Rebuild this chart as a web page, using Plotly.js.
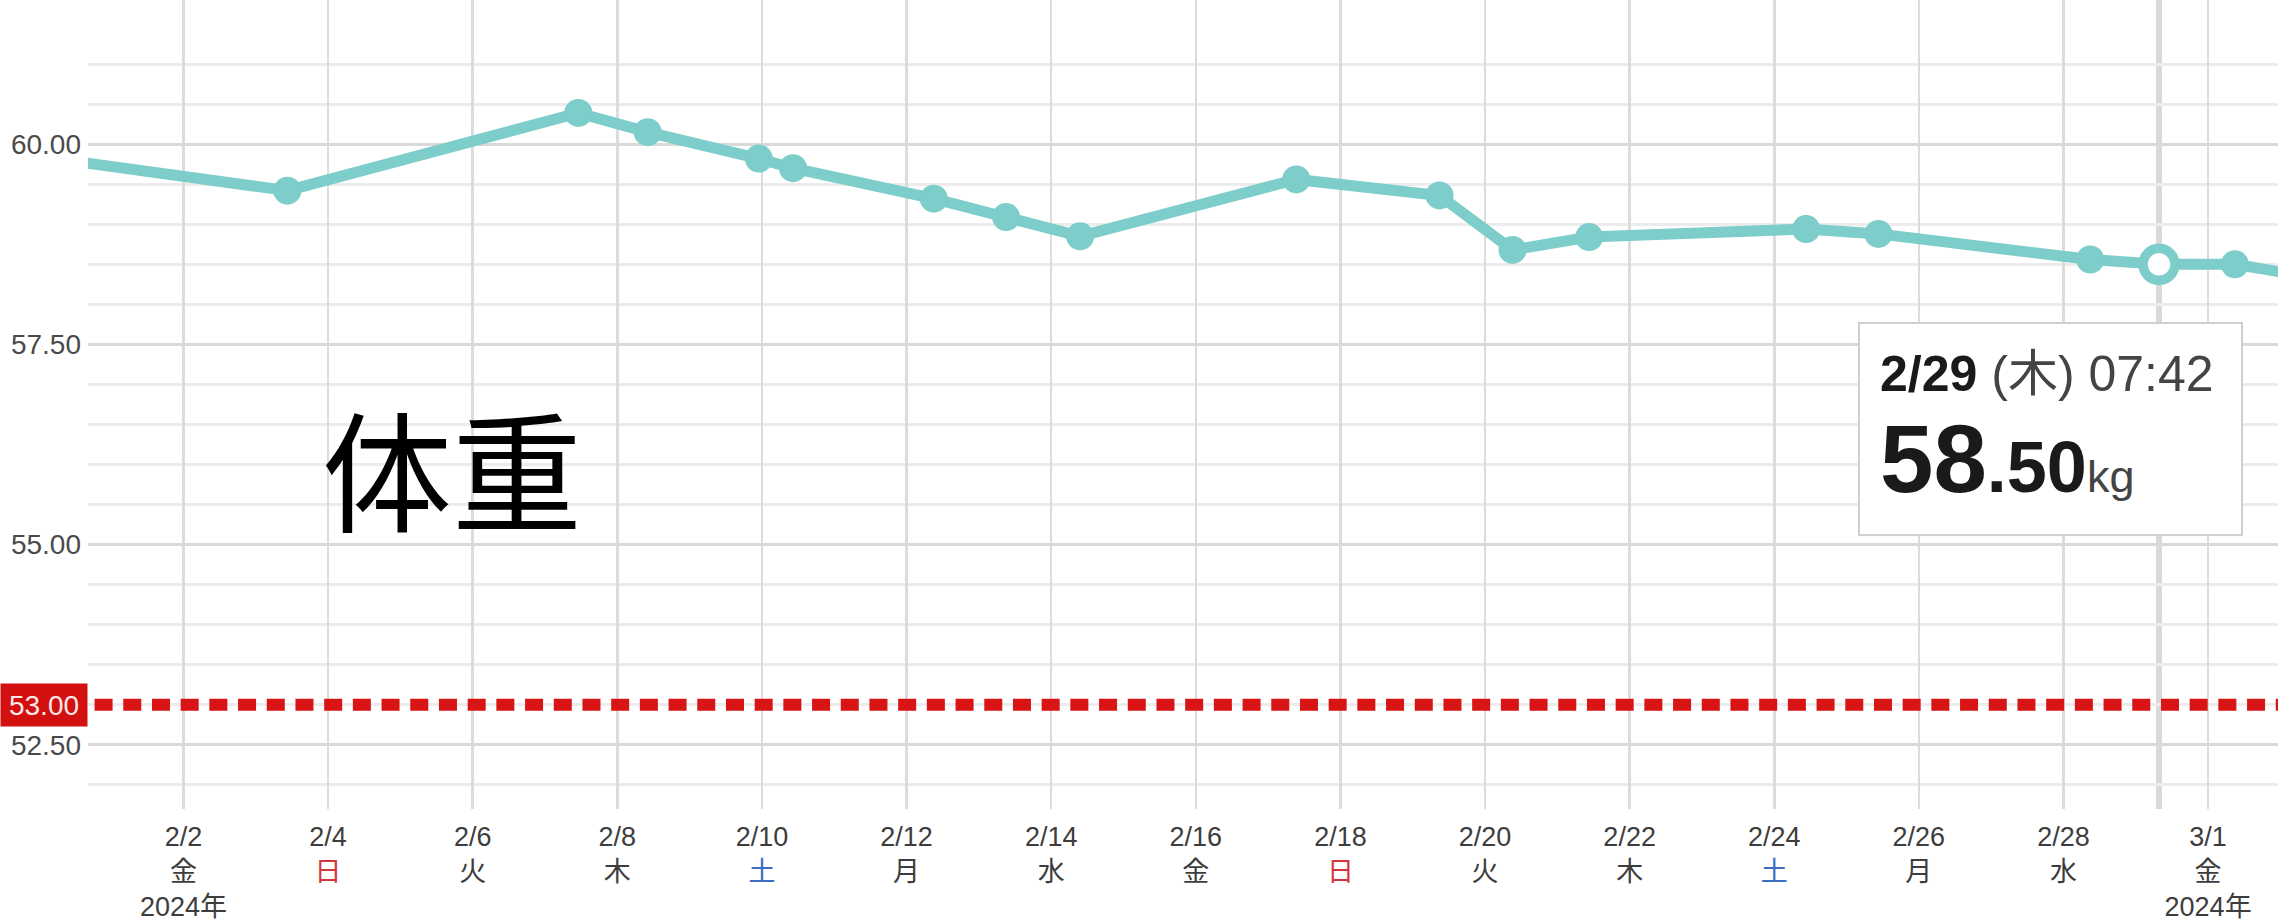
<!DOCTYPE html>
<html>
<head>
<meta charset="utf-8">
<script src="https://cdn.plot.ly/plotly-3.0.1.min.js"></script>
<style>
html,body{margin:0;padding:0;background:#fff;}
#chart{width:2278px;height:922px;}
</style>
</head>
<body>
<div id="chart"></div>
<script>
// ---- data ----
const dates = ['2024-01-31 09:00','2024-02-03 10:28','2024-02-07 11:03','2024-02-08 10:05','2024-02-09 22:57',
  '2024-02-10 10:19','2024-02-12 09:02','2024-02-13 09:02','2024-02-14 09:36','2024-02-17 09:21',
  '2024-02-19 08:53','2024-02-20 09:07','2024-02-21 10:34','2024-02-24 10:34','2024-02-25 10:34',
  '2024-02-28 08:53','2024-02-29 07:42','2024-03-01 08:53','2024-03-02 09:00'];
const weights = [59.80,59.42,60.39,60.15,59.82,59.70,59.32,59.09,58.85,59.56,59.36,58.68,58.84,58.94,58.88,58.56,58.50,58.50,58.35];

const highlightDate = '2024-02-29 07:42';
const highlightLabelDate = '2/29';
const highlightLabelWeekday = '木';
const highlightLabelTime = '07:42';

const goalWeight = 53.00;
const goalLabel = '53.00';

const tickDates = ['2024-02-02','2024-02-04','2024-02-06','2024-02-08','2024-02-10','2024-02-12','2024-02-14',
  '2024-02-16','2024-02-18','2024-02-20','2024-02-22','2024-02-24','2024-02-26','2024-02-28','2024-03-01'];
const tickDayLabels = ['2/2','2/4','2/6','2/8','2/10','2/12','2/14','2/16','2/18','2/20','2/22','2/24','2/26','2/28','3/1'];
const tickWeekdays = ['金','日','火','木','土','月','水','金','日','火','木','土','月','水','金'];
const tickYearLabels = ['2024年','','','','','','','','','','','','','','2024年'];

const yTickVals = [52.5, 55, 57.5, 60];
const yTickText = ['52.50','55.00','57.50','60.00'];
const yMinorVals = [52, 53, 53.5, 54, 54.5, 55.5, 56, 56.5, 57, 58, 58.5, 59, 59.5, 60.5, 61];

const chartTitle = '体重';

// ---- build ----
const weekdayColors = {'日':'#d4363f','土':'#3b6cc2'};
const xTickText = tickDayLabels.map((d,i)=>{
  const w = tickWeekdays[i];
  const c = weekdayColors[w];
  let s = d + '<br>' + (c ? '<span style="color:'+c+'">'+w+'</span>' : w);
  if (tickYearLabels[i]) s += '<br>' + tickYearLabels[i];
  return s;
});

const hi = dates.indexOf(highlightDate);
const teal = '#7dcdca';

const traces = [
  {
    x: dates, y: weights, type: 'scatter', mode: 'lines+markers',
    line: {color: teal, width: 11},
    marker: {color: teal, size: 28},
    cliponaxis: true, hoverinfo: 'skip'
  },
  {
    x: [dates[hi]], y: [weights[hi]], type: 'scatter', mode: 'markers',
    marker: {color: '#ffffff', size: 32, line: {color: teal, width: 9.5}},
    hoverinfo: 'skip'
  }
];

const valStr = weights[hi].toFixed(2).split('.');

const layout = {
  width: 2278, height: 922, autosize: false,
  margin: {l: 88, r: 0, t: 0, b: 113, pad: 0},
  paper_bgcolor: '#ffffff', plot_bgcolor: '#ffffff',
  showlegend: false, hovermode: false,
  font: {family: 'Liberation Sans, Arial, "Noto Sans CJK JP", sans-serif', color: '#3d3d3d'},
  xaxis: {
    type: 'date',
    range: ['2024-01-31 16:18', '2024-03-01 23:12'],
    tickmode: 'array', tickvals: tickDates, ticktext: xTickText,
    ticks: '', showline: false, zeroline: false,
    showgrid: true, gridcolor: '#dcdcdc', gridwidth: 2.5,
    tickfont: {size: 27, color: '#3d3d3d', family: 'Liberation Sans, Arial, "Noto Sans CJK JP", sans-serif'},
    ticklabelstandoff: 9,
    fixedrange: true
  },
  yaxis: {
    range: [51.70, 61.80],
    tickmode: 'array', tickvals: yTickVals, ticktext: yTickText,
    ticks: '', showline: false, zeroline: false,
    showgrid: true, gridcolor: '#d9d9d9', gridwidth: 3,
    minor: {tickmode: 'array', tickvals: yMinorVals, showgrid: true, gridcolor: '#ececec', gridwidth: 3, ticks: ''},
    tickfont: {size: 28, color: '#4a4a4a'},
    ticklabelstandoff: 6,
    fixedrange: true
  },
  shapes: [
    {
      type: 'line', layer: 'below', xref: 'x', yref: 'paper',
      x0: dates[hi], x1: dates[hi], y0: 0, y1: 1,
      line: {color: '#dadada', width: 6}
    },
    {
      type: 'line', layer: 'above', xref: 'paper', yref: 'y',
      x0: 0.003, x1: 1, y0: goalWeight, y1: goalWeight,
      line: {color: '#d81414', width: 12, dash: '18px,10.7px'}
    }
  ],
  annotations: [
    {
      xref: 'paper', yref: 'y', x: 0, y: goalWeight, xanchor: 'right', yanchor: 'middle',
      text: goalLabel, showarrow: false,
      font: {size: 28, color: '#ffe9e9'},
      bgcolor: '#d21010', borderpad: 7, width: 72, height: 28, align: 'center'
    },
    {
      xref: 'x', yref: 'y', x: '2024-02-05 17:08', y: 56.0, xanchor: 'center', yanchor: 'middle',
      text: chartTitle, showarrow: false,
      font: {size: 130, color: '#000000', family: '"Noto Sans CJK JP", sans-serif'}
    },
    {
      xref: 'x', yref: 'y', x: dates[hi], y: weights[hi], xanchor: 'center', yanchor: 'middle',
      xshift: -108, yshift: -165, showarrow: false,
      width: 341, height: 170, borderpad: 20, borderwidth: 2, bordercolor: '#cfcfcf', bgcolor: '#ffffff',
      align: 'left', valign: 'middle',
      font: {size: 78, color: '#1a1a1a', family: 'Liberation Sans, Arial, "Noto Sans CJK JP", sans-serif'},
      text: '<span style="font-size:50px"><b>' + highlightLabelDate + '</b> <span style="color:#444444">(' +
            highlightLabelWeekday + ') ' + highlightLabelTime + '</span></span><br>' +
            '<b><span style="font-size:96px">' + valStr[0] + '</span><span style="font-size:72px">.' + valStr[1] +
            '</span></b><span style="font-size:45px;color:#444444">kg</span>'
    }
  ]
};

Plotly.newPlot('chart', traces, layout, {displayModeBar: false, staticPlot: true});
</script>
</body>
</html>
